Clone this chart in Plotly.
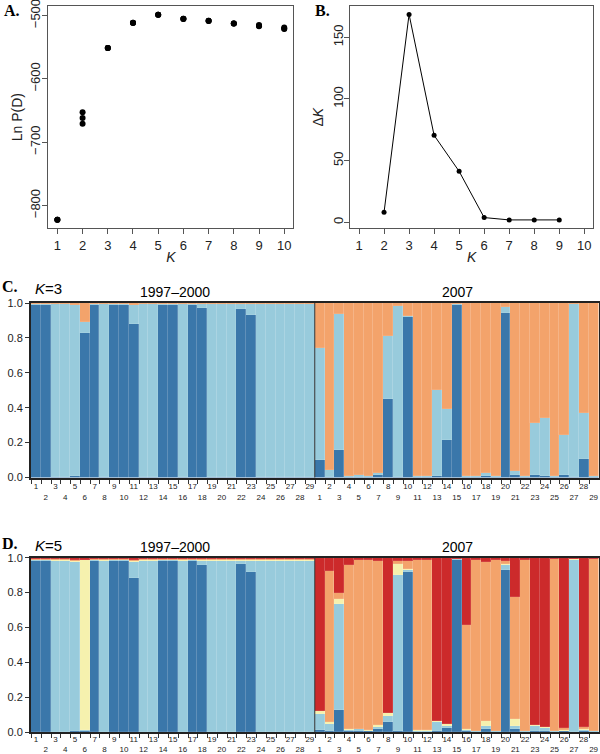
import plotly.graph_objects as go

# ---------------- data ----------------
K_values = [1, 2, 3, 4, 5, 6, 7, 8, 9, 10]
lnP_reps = [
    [-822.5, -822.6, -822.4],
    [-652.9, -661.8, -670.9],
    [-551.2, -551.5, -551.3],
    [-511.4, -511.7, -511.6],
    [-498.9, -499.0, -498.8],
    [-505.2, -505.4, -505.3],
    [-508.3, -508.5, -508.4],
    [-512.6, -512.8, -512.7],
    [-514.9, -516.2, -516.8],
    [-518.9, -520.6, -521.3],
]
deltaK_K = [2, 3, 4, 5, 6, 7, 8, 9]
deltaK = [8.1, 168.6, 70.5, 41.3, 3.8, 1.9, 1.9, 1.9]

group_names = ["1997\u20132000", "2007"]
ind_labels = [str(i) for i in range(1, 30)] + [str(i) for i in range(1, 30)]

# K=3 memberships (bottom -> top): dark blue, light blue, orange
C_dark = [0.99, 0.99, 0.005, 0.005, 0.01, 0.83, 0.99, 0.005, 0.99, 0.99, 0.88, 0.005, 0.005, 0.99, 0.99,
          0.005, 0.99, 0.97, 0.005, 0.005, 0.005, 0.965, 0.933, 0.005, 0.005, 0.005, 0.005, 0.005, 0.005,
          0.10, 0.005, 0.155, 0.005, 0.005, 0.003, 0.014, 0.45, 0.005, 0.92, 0.003, 0.003, 0.01, 0.215, 0.99,
          0.005, 0.003, 0.01, 0.003, 0.945, 0.012, 0.003, 0.012, 0.01, 0.003, 0.012, 0.005, 0.106, 0.005]
C_light = [0.005, 0.005, 0.99, 0.99, 0.978, 0.06, 0.005, 0.99, 0.005, 0.005, 0.11, 0.99, 0.99, 0.005, 0.005,
           0.99, 0.005, 0.025, 0.99, 0.99, 0.99, 0.03, 0.062, 0.99, 0.99, 0.99, 0.99, 0.99, 0.99,
           0.645, 0.04, 0.78, 0.005, 0.007, 0.003, 0.011, 0.36, 0.98, 0.005, 0.003, 0.003, 0.49, 0.175, 0.003,
           0.005, 0.003, 0.017, 0.003, 0.033, 0.027, 0.003, 0.298, 0.33, 0.003, 0.233, 0.99, 0.264, 0.005]
C_orange = [0.005, 0.005, 0.005, 0.005, 0.012, 0.11, 0.005, 0.005, 0.005, 0.005, 0.01, 0.005, 0.005, 0.005, 0.005,
            0.005, 0.005, 0.005, 0.005, 0.005, 0.005, 0.005, 0.005, 0.005, 0.005, 0.005, 0.005, 0.005, 0.005,
            0.255, 0.955, 0.065, 0.99, 0.988, 0.994, 0.975, 0.19, 0.015, 0.075, 0.994, 0.994, 0.50, 0.61, 0.007,
            0.99, 0.994, 0.973, 0.994, 0.022, 0.961, 0.994, 0.69, 0.66, 0.994, 0.755, 0.005, 0.63, 0.99]

# K=5 memberships (bottom -> top): dark blue, light blue, yellow, orange, red
D_dark = [0.985, 0.985, 0.003, 0.003, 0.005, 0.006, 0.985, 0.003, 0.985, 0.985, 0.885, 0.003, 0.003, 0.985, 0.985,
          0.003, 0.985, 0.96, 0.003, 0.003, 0.003, 0.965, 0.92, 0.003, 0.003, 0.003, 0.003, 0.003, 0.003,
          0.015, 0.005, 0.13, 0.005, 0.005, 0.005, 0.02, 0.058, 0.005, 0.92, 0.003, 0.003, 0.005, 0.025, 0.99,
          0.005, 0.003, 0.019, 0.003, 0.929, 0.02, 0.003, 0.01, 0.005, 0.003, 0.005, 0.003, 0.01, 0.003]
D_light = [0.003, 0.003, 0.982, 0.982, 0.972, 0.006, 0.003, 0.982, 0.003, 0.003, 0.09, 0.982, 0.982, 0.003, 0.003,
           0.982, 0.003, 0.022, 0.982, 0.982, 0.982, 0.02, 0.062, 0.982, 0.982, 0.982, 0.982, 0.982, 0.982,
           0.09, 0.045, 0.607, 0.01, 0.012, 0.005, 0.013, 0.038, 0.90, 0.01, 0.004, 0.004, 0.055, 0.01, 0.005,
           0.007, 0.003, 0.019, 0.003, 0.029, 0.018, 0.003, 0.024, 0.02, 0.003, 0.005, 0.985, 0.005, 0.003]
D_yellow = [0.002, 0.002, 0.003, 0.003, 0.006, 0.975, 0.002, 0.003, 0.002, 0.002, 0.01, 0.003, 0.003, 0.002, 0.002,
            0.003, 0.002, 0.006, 0.003, 0.003, 0.003, 0.003, 0.006, 0.003, 0.003, 0.003, 0.003, 0.003, 0.003,
            0.02, 0.01, 0.03, 0.005, 0.003, 0.005, 0.011, 0.012, 0.06, 0.005, 0.005, 0.005, 0.005, 0.01, 0.0,
            0.008, 0.004, 0.029, 0.004, 0.009, 0.038, 0.004, 0.008, 0.004, 0.004, 0.003, 0.005, 0.005, 0.004]
D_orange = [0.004, 0.004, 0.005, 0.005, 0.005, 0.003, 0.004, 0.005, 0.004, 0.004, 0.003, 0.005, 0.005, 0.004, 0.004,
            0.005, 0.004, 0.004, 0.005, 0.005, 0.005, 0.005, 0.005, 0.005, 0.005, 0.005, 0.005, 0.005, 0.005,
            0.0, 0.865, 0.03, 0.94, 0.97, 0.975, 0.936, 0.0, 0.02, 0.045, 0.978, 0.978, 0.0, 0.0, 0.0,
            0.595, 0.98, 0.91, 0.98, 0.013, 0.70, 0.98, 0.0, 0.0, 0.985, 0.012, 0.002, 0.009, 0.985]
D_red = [0.006, 0.006, 0.007, 0.007, 0.012, 0.01, 0.006, 0.007, 0.006, 0.006, 0.012, 0.007, 0.007, 0.006, 0.006,
         0.007, 0.006, 0.008, 0.007, 0.007, 0.007, 0.007, 0.007, 0.007, 0.007, 0.007, 0.007, 0.007, 0.007,
         0.875, 0.075, 0.203, 0.04, 0.01, 0.01, 0.02, 0.892, 0.015, 0.02, 0.01, 0.01, 0.935, 0.955, 0.005,
         0.385, 0.01, 0.023, 0.01, 0.02, 0.224, 0.01, 0.958, 0.971, 0.005, 0.975, 0.005, 0.971, 0.005]

# ---------------- styling ----------------
DARK = "#3a77aa"
LIGHT = "#98cbdc"
YELLOW = "#f6f1ae"
ORANGE = "#f3a36b"
RED = "#cc2a2b"
SANS = "Liberation Sans, Arial, sans-serif"
SERIF = "Liberation Serif, Times New Roman, serif"
TXT = "#222"

H = 754.0
W = 600.0


def py(px):
    return 1 - px / H


def pxx(px):
    return px / W


fig = go.Figure()

# Panel A
ax_k, ax_v = [], []
for k, reps in zip(K_values, lnP_reps):
    for v in reps:
        ax_k.append(k)
        ax_v.append(v)
fig.add_trace(go.Scatter(x=ax_k, y=ax_v, mode="markers", xaxis="x", yaxis="y",
                         marker=dict(color="black", size=6), showlegend=False))

# Panel B
fig.add_trace(go.Scatter(x=deltaK_K, y=deltaK, mode="lines+markers", xaxis="x2", yaxis="y2",
                         line=dict(color="black", width=1), marker=dict(color="black", size=5),
                         showlegend=False))

n = len(ind_labels)
idx = list(range(n))
bar_line = dict(width=0.4, color="rgba(255,255,255,0.25)")

for vals, col in [(C_dark, DARK), (C_light, LIGHT), (C_orange, ORANGE)]:
    fig.add_trace(go.Bar(x=idx, y=vals, xaxis="x3", yaxis="y3", marker=dict(color=col, line=bar_line),
                         width=1, showlegend=False))
for vals, col in [(D_dark, DARK), (D_light, LIGHT), (D_yellow, YELLOW), (D_orange, ORANGE), (D_red, RED)]:
    fig.add_trace(go.Bar(x=idx, y=vals, xaxis="x4", yaxis="y4", marker=dict(color=col, line=bar_line),
                         width=1, showlegend=False))

ticktext = [lab if i % 2 == 0 else "<br>" + lab for i, lab in enumerate(ind_labels)]
boundaries = [i - 0.45 for i in idx]

box_axis = dict(showline=True, mirror=True, linecolor="#555", linewidth=1, showgrid=False, zeroline=False,
                ticks="outside", ticklen=5, tickcolor="#555", automargin=False, ticklabeloverflow="allow",
                tickfont=dict(family=SANS, size=13, color=TXT))

bar_x = dict(range=[-0.5, n - 0.5], tickmode="array", tickvals=idx, ticktext=ticktext, ticks="",
             tickangle=0, automargin=False, ticklabeloverflow="allow",
             tickfont=dict(family=SANS, size=8, color=TXT), showline=True, mirror=True,
             linecolor="#222", linewidth=2, showgrid=False, zeroline=False,
             minor=dict(tickmode="array", tickvals=boundaries, ticks="outside", ticklen=4, tickcolor="#333"))
bar_y = dict(range=[0, 1], tickmode="array", tickvals=[0, 0.2, 0.4, 0.6, 0.8, 1.0], tickformat=".1f",
             ticks="outside", ticklen=4, tickcolor="#333", showline=True, mirror=True, linecolor="#222",
             linewidth=2, showgrid=False, zeroline=False, automargin=False, ticklabeloverflow="allow",
             tickfont=dict(family=SANS, size=11, color=TXT))

fig.update_layout(
    template="none",
    font=dict(family=SANS, color=TXT),
    width=600, height=754, margin=dict(l=0, r=0, t=0, b=0, pad=0),
    paper_bgcolor="white", plot_bgcolor="white", barmode="stack", bargap=0,
    xaxis=dict(box_axis, domain=[pxx(48.3), pxx(293.3)], range=[0.64, 10.36], tickvals=K_values,
               anchor="y", title=dict(text="<i>K</i>", font=dict(family=SANS, size=14, color=TXT), standoff=0)),
    yaxis=dict(box_axis, domain=[py(228.3), py(6)], range=[-836, -485], tickvals=[-800, -700, -600, -500],
               tickangle=-90, anchor="x", ticklabelstandoff=-3,
               title=dict(text="Ln P(D)", font=dict(family=SANS, size=14, color=TXT), standoff=2)),
    xaxis2=dict(box_axis, domain=[pxx(350), pxx(593.3)], range=[0.64, 10.36], tickvals=K_values,
                anchor="y2", title=dict(text="<i>K</i>", font=dict(family=SANS, size=14, color=TXT), standoff=0)),
    yaxis2=dict(box_axis, domain=[py(228.3), py(6)], range=[-4.9, 175.4], tickvals=[0, 50, 100, 150],
                tickangle=-90, anchor="x2", ticklabelstandoff=-4,
                title=dict(text="\u0394<i>K</i>", font=dict(family=SANS, size=14, color=TXT), standoff=3)),
    xaxis3=dict(bar_x, domain=[pxx(31), pxx(598.5)], anchor="y3"),
    yaxis3=dict(bar_y, domain=[py(477.5), py(303)], anchor="x3"),
    xaxis4=dict(bar_x, domain=[pxx(31), pxx(598.5)], anchor="y4", ticklabelstandoff=-2),
    yaxis4=dict(bar_y, domain=[py(732), py(557.7)], anchor="x4"),
)

# group divider
split = ind_labels.index("1", 1) - 0.5
for xr, yr in [("x3", "y3 domain"), ("x4", "y4 domain")]:
    fig.add_shape(type="line", xref=xr, yref=yr, x0=split, x1=split, y0=0, y1=1,
                  line=dict(color="#333", width=1))

# annotations
ann = []
for txt, x, y in [("A.", 2, 11), ("B.", 313, 11), ("C.", 0, 287), ("D.", 0, 543)]:
    ann.append(dict(text="<b>" + txt + "</b>", x=pxx(x), y=py(y), xref="paper", yref="paper",
                    xanchor="left", yanchor="middle", showarrow=False,
                    font=dict(family=SERIF, size=16, color="black")))
for txt, y in [("<i>K</i>=3", 288), ("<i>K</i>=5", 545)]:
    ann.append(dict(text=txt, x=pxx(33), y=py(y), xref="paper", yref="paper", xanchor="left",
                    yanchor="middle", showarrow=False, font=dict(family=SANS, size=15, color="black")))
for y in [292, 547]:
    ann.append(dict(text=group_names[0], x=pxx(175), y=py(y), xref="paper", yref="paper",
                    xanchor="center", yanchor="middle", showarrow=False,
                    font=dict(family=SANS, size=14, color="black")))
    ann.append(dict(text=group_names[1], x=pxx(457), y=py(y), xref="paper", yref="paper",
                    xanchor="center", yanchor="middle", showarrow=False,
                    font=dict(family=SANS, size=14, color="black")))
fig.update_layout(annotations=ann)

fig.write_html("out.html", config={"displayModeBar": False},
               post_script="document.body.style.margin='0';document.body.style.overflow='hidden';")
